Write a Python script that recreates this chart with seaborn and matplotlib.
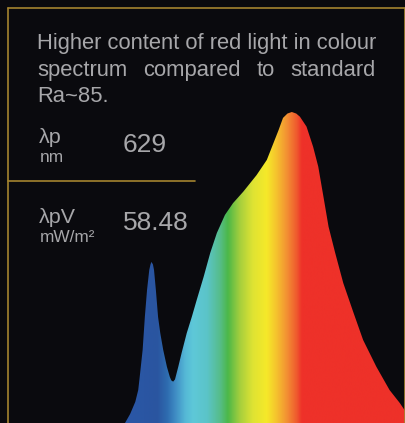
import numpy as np
import matplotlib
matplotlib.use("Agg")
import matplotlib.pyplot as plt
import seaborn as sns
import pandas as pd
from matplotlib.colors import LinearSegmentedColormap
from matplotlib.patches import Polygon
from matplotlib.lines import Line2D

# ---- data ----
wavelength_nm = [400, 407, 414, 418, 420, 424, 427, 430, 433, 434.7, 436, 438, 439.5,
                 442, 445, 448, 452, 457, 461, 463, 465.5, 468, 472.5, 477, 484,
                 491, 497.5, 507, 516, 525,
                 536, 547, 561, 579, 593, 602, 609, 615, 621, 627, 633, 638, 647,
                 656, 663, 670, 677, 686, 697, 711, 724, 742, 760, 774, 782]
relative_intensity = [0.000, 0.029, 0.068, 0.106, 0.148, 0.235, 0.341, 0.428, 0.492, 0.510,
                      0.518, 0.510, 0.492, 0.428, 0.341, 0.289, 0.235, 0.181, 0.148, 0.137,
                      0.133, 0.140, 0.181, 0.225, 0.289,
                      0.342, 0.395, 0.470, 0.547, 0.611,
                      0.669, 0.707, 0.744, 0.797,
                      0.846, 0.900, 0.942, 0.981, 0.995, 1.000, 0.995, 0.985, 0.953, 0.888,
                      0.824, 0.728, 0.631, 0.547, 0.450, 0.354, 0.267, 0.181, 0.106, 0.064,
                      0.036]

gradient_wl = [400, 407, 443.5, 457, 468, 481.6, 492.5, 511.5, 529, 540, 556.4,
               574, 593, 606.7, 620, 634, 640.7, 782]
gradient_colors = ["#2a57a6", "#2a57a6", "#2a55a0", "#2e6cb0", "#3f8cc4", "#55b8d6",
                   "#5ec8d8", "#5bc4c8", "#56bd8a", "#4cb848", "#a6cf3d", "#dfe333",
                   "#f6e929", "#f5c12e", "#f39233", "#ef5a2e", "#ee3129", "#ee3129"]

description_line1 = "Higher content of red light in colour"
description_line2_words = ["spectrum", "compared", "to", "standard"]
description_line3 = "Ra~85."
metric_symbols = ["λp", "λpV"]
metric_units = ["nm", "mW/m²"]
metric_values = ["629", "58.48"]

# ---- style ----
BG = "#0a0a0e"
GOLD = "#a4842f"
TEXT = "#a7a7aa"

sns.set_theme(style="dark", rc={"axes.facecolor": BG, "figure.facecolor": BG,
                                "savefig.facecolor": BG})
plt.rcParams['font.family'] = ['Liberation Sans', 'DejaVu Sans']

W, H = 406, 423
fig = plt.figure(figsize=(W / 100, H / 100), dpi=100, facecolor=BG)


def fx(px):
    return px / W


def fy(py):
    return 1 - py / H


# ---- spectrum axes ----
top_px = 100
ymax = (H - top_px) / 311.0
ax = fig.add_axes([fx(125), 0, fx(405) - fx(125), fy(top_px)])
ax.set_facecolor(BG)
df = pd.DataFrame({"wl": wavelength_nm, "I": relative_intensity})
sns.lineplot(data=df, x="wl", y="I", ax=ax, linewidth=0, color=BG)
ax.set_xlim(400, 781)
ax.set_ylim(0, ymax)
ax.axis("off")

verts = [(wavelength_nm[0], 0)] + list(zip(wavelength_nm, relative_intensity)) + \
        [(wavelength_nm[-1], 0)]
patch = Polygon(verts, closed=True, facecolor="none", edgecolor="none",
                transform=ax.transData)
ax.add_patch(patch)

lo, hi = gradient_wl[0], gradient_wl[-1]
stops = [((w - lo) / (hi - lo), c) for w, c in zip(gradient_wl, gradient_colors)]
cmap = LinearSegmentedColormap.from_list("spectrum", stops)
xs = np.linspace(0, 1, 1200)
img = cmap(xs)[np.newaxis, :, :]
im = ax.imshow(img, extent=[lo, hi, 0, ymax], aspect="auto", origin="lower",
               interpolation="bilinear", zorder=2)
im.set_clip_path(patch)

# ---- border lines ----
lw = 1.2
fig.add_artist(Line2D([fx(7.5), fx(405)], [fy(8.5), fy(8.5)], color=GOLD, lw=lw))
fig.add_artist(Line2D([fx(7.5), fx(7.5)], [fy(8.5), fy(423)], color=GOLD, lw=lw))
fig.add_artist(Line2D([fx(404.8), fx(404.8)], [fy(8.5), fy(423)], color=GOLD, lw=lw))
fig.add_artist(Line2D([fx(7.5), fx(195)], [fy(181), fy(181)], color=GOLD, lw=lw))

# ---- texts ----
desc_fs = 15.8
fig.text(fx(37), fy(49), description_line1, color=TEXT, fontsize=desc_fs,
         ha="left", va="baseline")
word_x = [(37, "left"), (143, "left"), (257, "left"), (376, "right")]
for (x, ha), w in zip(word_x, description_line2_words):
    fig.text(fx(x), fy(76), w, color=TEXT, fontsize=desc_fs, ha=ha, va="baseline")
fig.text(fx(37), fy(102), description_line3, color=TEXT, fontsize=desc_fs,
         ha="left", va="baseline")

sym_base = [142.7, 222.7]
unit_base = [162.3, 241.7]
val_base = [151.7, 230]
for i in range(2):
    fig.text(fx(38.5), fy(sym_base[i]), metric_symbols[i], color=TEXT, fontsize=15.4,
             ha="left", va="baseline")
    fig.text(fx(40), fy(unit_base[i]), metric_units[i], color=TEXT, fontsize=12.4,
             ha="left", va="baseline")
    fig.text(fx(123), fy(val_base[i]), metric_values[i], color=TEXT, fontsize=19,
             ha="left", va="baseline")

fig.savefig("out.png", dpi=100, facecolor=BG)
